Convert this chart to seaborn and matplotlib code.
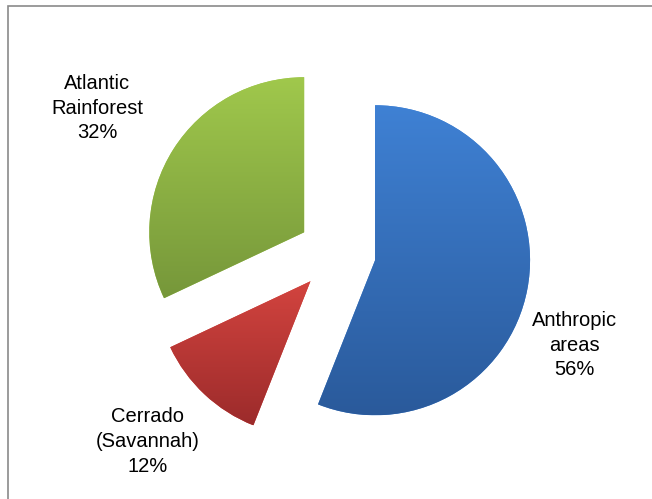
import numpy as np
import matplotlib.pyplot as plt
import seaborn as sns
from matplotlib.colors import LinearSegmentedColormap
from matplotlib.patches import Rectangle

# Land cover shares (%)
categories = ["Anthropic\nareas", "Cerrado\n(Savannah)", "Atlantic\nRainforest"]
shares = [56, 12, 32]

# gradient colours per slice (top, bottom)
top_colors = ["#3f81d4", "#d3443f", "#a0c84c"]
bottom_colors = ["#2a5a9b", "#9c2b2b", "#76973a"]

# label anchor points (data units, radius = 1)
label_pos = [(1.535, -0.594), (-1.22, -1.215), (-1.548, 0.935)]

sns.set_theme(style="white")
plt.rcParams["font.family"] = ["Liberation Sans", "DejaVu Sans"]

fig = plt.figure(figsize=(6.52, 4.99), dpi=100)
ax = fig.add_axes([0, 0, 1, 1])

wedges, _ = ax.pie(shares, startangle=90, counterclock=False,
                   explode=[0.25] * len(shares), radius=1,
                   colors=top_colors, wedgeprops=dict(linewidth=0))

# vertical gradient fill clipped to each wedge
grad = np.linspace(0, 1, 256).reshape(-1, 1)
for w, c0, c1 in zip(wedges, top_colors, bottom_colors):
    bb = w.get_path().get_extents()
    cmap = LinearSegmentedColormap.from_list("g", [c1, c0])
    im = ax.imshow(grad, cmap=cmap, origin="lower", aspect="auto",
                   extent=(bb.x0, bb.x1, bb.y0, bb.y1), zorder=w.get_zorder() + 0.1,
                   interpolation="bilinear")
    im.set_clip_path(w)

for name, val, (x, y) in zip(categories, shares, label_pos):
    ax.text(x, y, f"{name}\n{val}%", ha="center", va="center",
            fontsize=14.5, color="black", linespacing=1.39)

ax.set_aspect("auto")
ax.set_xlim(-337 / 155, (652 - 337) / 155)
ax.set_ylim(-(499 - 253) / 155, 253 / 155)
ax.axis("off")

# chart frame
fig.patches.append(Rectangle((8 / 652, -0.1), 1.2, 1 - 6 / 499 + 0.1,
                             transform=fig.transFigure, fill=False,
                             edgecolor="#8a8a8a", linewidth=1.2))

plt.savefig("out.png", dpi=100)
